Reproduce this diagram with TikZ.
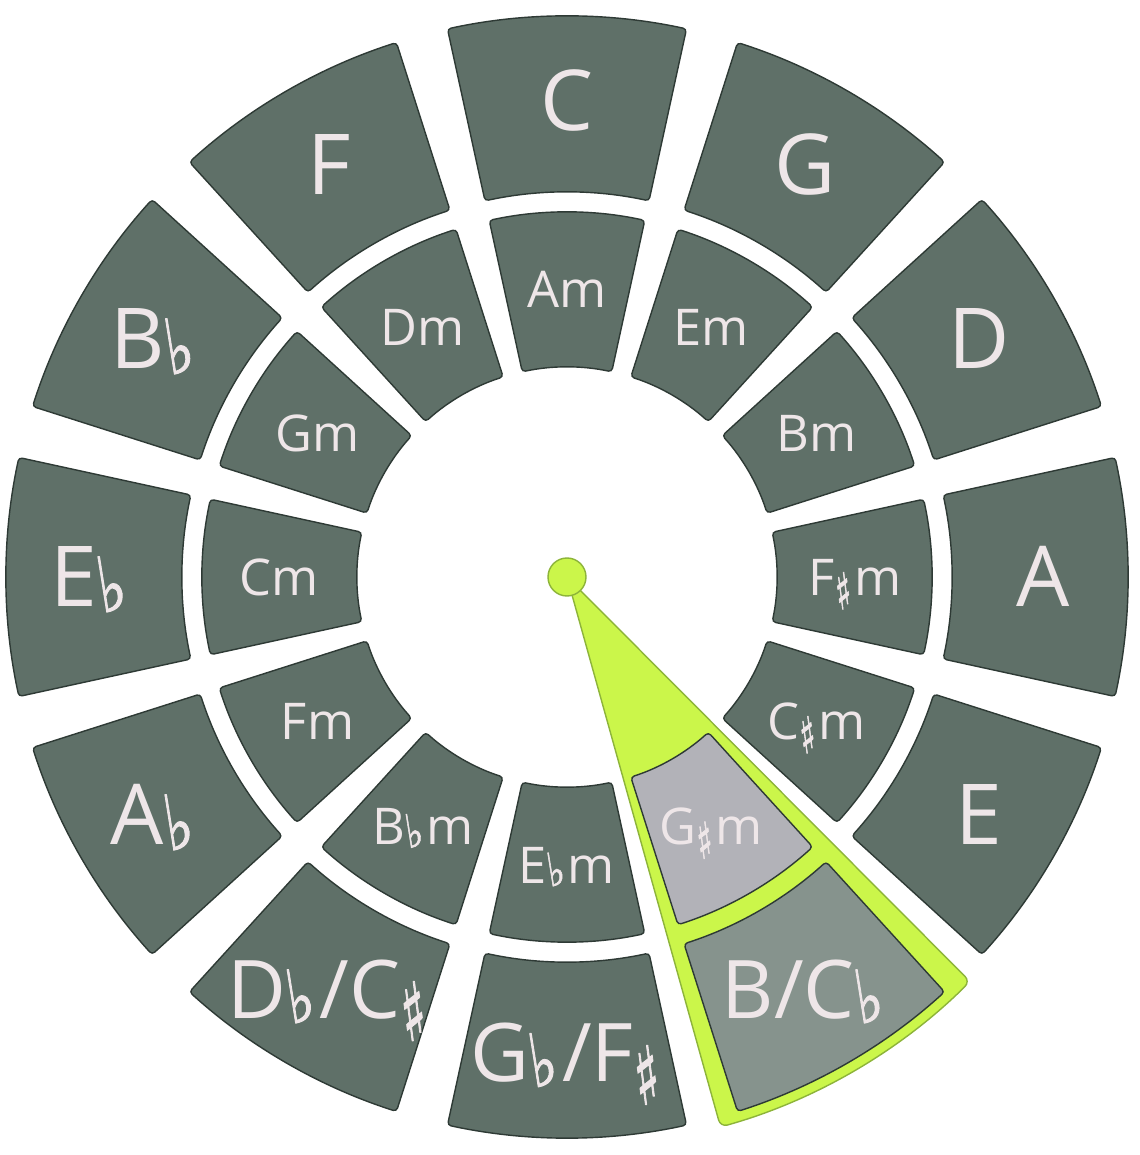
\documentclass[tikz,border=0pt]{standalone}
\usepackage{fontspec}
\setmainfont{Open Sans}
\newfontfamily\musicfont[FakeSlant=-0.2, FakeBold=1.5]{DejaVu Sans}
\usepackage{graphicx}

\definecolor{keygrey}{HTML}{5F7068}
\definecolor{keyline}{HTML}{2E3A35}
\definecolor{keytext}{HTML}{EEE6E8}
\definecolor{limefill}{HTML}{CBF64A}
\definecolor{limeline}{HTML}{8DB43A}
\definecolor{minorsel}{HTML}{B2B2B8}
\definecolor{majorsel}{HTML}{86938D}

% flat and sharp signs
\newcommand{\fl}{\kern0.05em\raisebox{-0.06em}{\musicfont\scalebox{0.72}[0.9]{♭}}\kern0.02em}
\newcommand{\sh}{\kern0.05em\raisebox{-0.28em}{\musicfont\scalebox{0.65}[1]{♯}}\kern0.01em}

% one ring sector: [fill] {angle} {inner radius} {outer radius}
\newcommand{\ringsector}[4][keygrey]{%
  \filldraw[sector, fill=#1] (#2-12.3:#3) arc[start angle=#2-12.3, end angle=#2+12.3, radius=#3]
    -- (#2+12.3:#4) arc[start angle=#2+12.3, end angle=#2-12.3, radius=#4] -- cycle;}

\begin{document}
\begin{tikzpicture}[x=0.01cm, y=0.01cm,
    sector/.style={draw=keyline, line width=0.4pt, rounded corners=1pt},
    major/.style={text=keytext, font=\fontsize{23.9}{28}\selectfont, text height=17pt, text depth=0pt, inner sep=0pt},
    double/.style={major, font=\fontsize{23}{28}\selectfont, text height=16.4pt},
    minor/.style={text=keytext, font=\fontsize{14.4}{17}\selectfont, text height=10.3pt, text depth=0pt, inner sep=0pt},
    pointer/.style={fill=limefill, draw=limeline, line width=0.4pt}]
  \useasboundingbox (-567,-578) rectangle (572,577);

  % outer ring: major keys
  \ringsector{90}{385}{561}
  \ringsector{60}{385}{561}
  \ringsector{30}{385}{561}
  \ringsector{0}{385}{561}
  \ringsector{-30}{385}{561}
  \ringsector{-90}{385}{561}
  \ringsector{-120}{385}{561}
  \ringsector{-150}{385}{561}
  \ringsector{180}{385}{561}
  \ringsector{150}{385}{561}
  \ringsector{120}{385}{561}

  % inner ring: minor keys
  \ringsector{90}{210}{365}
  \ringsector{60}{210}{365}
  \ringsector{30}{210}{365}
  \ringsector{0}{210}{365}
  \ringsector{-30}{210}{365}
  \ringsector{-90}{210}{365}
  \ringsector{-120}{210}{365}
  \ringsector{-150}{210}{365}
  \ringsector{180}{210}{365}
  \ringsector{150}{210}{365}
  \ringsector{120}{210}{365}

  % selected key
  \filldraw[pointer, rounded corners=2pt] (0,0) -- (-74.4:571) arc[start angle=-74.4, end angle=-45.1, radius=571] -- cycle;
  \ringsector[minorsel]{-60}{210}{365}
  \ringsector[majorsel]{-60}{385}{561}
  \node[pointer, circle, minimum size=38*0.01cm, inner sep=0pt] (hub) at (0,0) {};

  \node[major] (majC) at (90:476) {C};
  \node[major] (majG) at (60:476) {G};
  \node[major] (majD) at (30:476) {D};
  \node[major] (majA) at (0:476) {A};
  \node[major] (majE) at (-30:476) {E};
  \node[double] (majB) at (-60:476) {B/C\fl};
  \node[double] (majGb) at (-90:476) {G\fl/F\sh};
  \node[double] (majDb) at (-120:476) {D\fl/C\sh};
  \node[major] (majAb) at (-150:476) {A\fl};
  \node[major] (majEb) at (180:476) {E\fl};
  \node[major] (majBb) at (150:476) {B\fl};
  \node[major] (majF) at (120:476) {F};

  \node[minor] (minAm) at (90:288) {Am};
  \node[minor] (minEm) at (60:288) {Em};
  \node[minor] (minBm) at (30:288) {Bm};
  \node[minor] (minFs) at (0:288) {F\sh m};
  \node[minor] (minCs) at (-30:288) {C\sh m};
  \node[minor] (minGs) at (-60:288) {G\sh m};
  \node[minor] (minEb) at (-90:288) {E\fl m};
  \node[minor] (minBb) at (-120:288) {B\fl m};
  \node[minor] (minFm) at (-150:288) {Fm};
  \node[minor] (minCm) at (180:288) {Cm};
  \node[minor] (minGm) at (150:288) {Gm};
  \node[minor] (minDm) at (120:288) {Dm};
\end{tikzpicture}
\end{document}
